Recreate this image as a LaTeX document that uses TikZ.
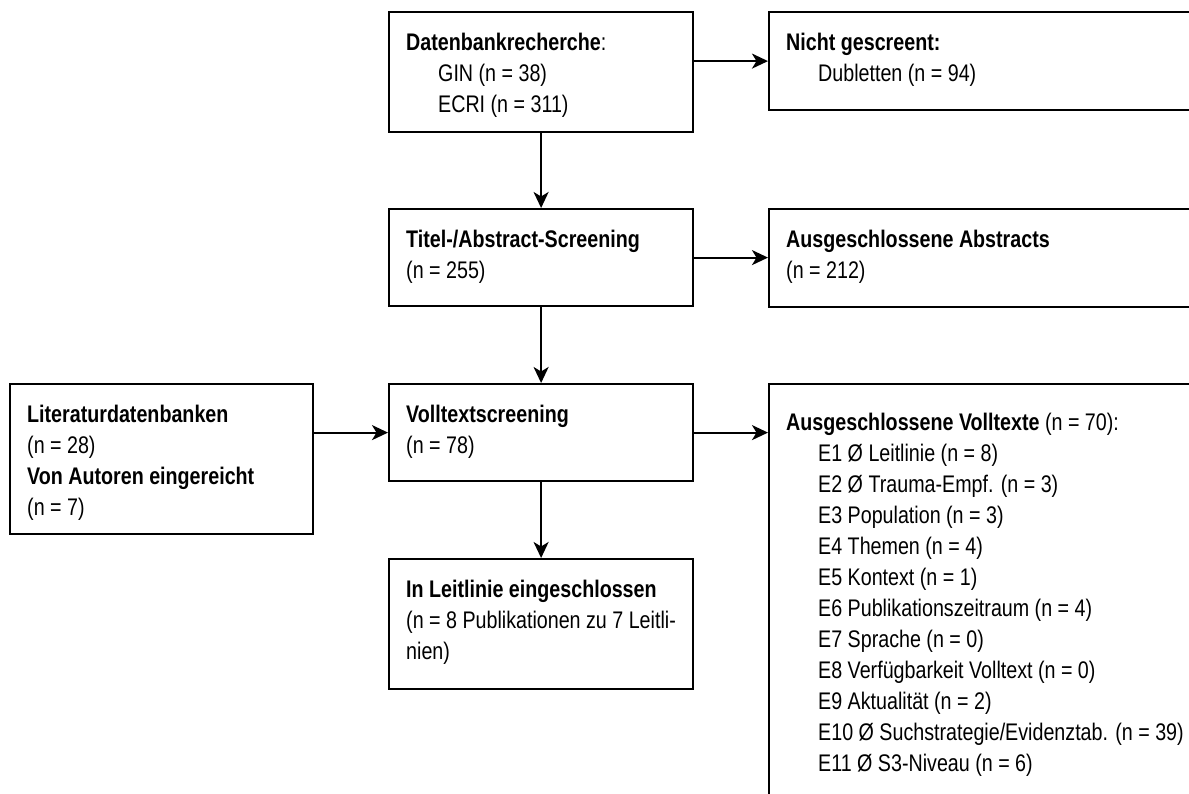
\documentclass[tikz,border=0pt]{standalone}
\usepackage{fontspec}
\setmainfont{Liberation Sans}[FakeStretch=0.82]
\usetikzlibrary{arrows.meta}
\newcommand\ind{\hspace*{32pt}}
\begin{document}
\begin{tikzpicture}[x=1pt,y=-1pt,
  frame/.style={draw=black, line width=2.2pt, rectangle, inner sep=0pt, anchor=north west},
  % first line carries a strut, so its baseline lies 21.7pt below the node top
  boxtext/.style={anchor=north west, inner sep=0pt, align=left,
    font=\fontsize{24pt}{31pt}\selectfont},
  flow/.style={line width=2.2pt, -{Stealth[length=16pt,width=15pt,inset=4.5pt]}}
]
\useasboundingbox (0,0) rectangle (1189,793);
\clip (0,0) rectangle (1189,793);

% boxes
\node[frame, minimum width=304pt, minimum height=120pt] (search) at (388,11) {};
\node[frame, minimum width=440pt, minimum height=98pt]  (dup)    at (768,11) {};
\node[frame, minimum width=304pt, minimum height=97pt]  (screen) at (388,208) {};
\node[frame, minimum width=440pt, minimum height=98pt]  (absex)  at (768,208) {};
\node[frame, minimum width=303pt, minimum height=150pt] (extra)  at (9,383) {};
\node[frame, minimum width=304pt, minimum height=97pt]  (full)   at (388,383) {};
\node[frame, minimum width=440pt, minimum height=430pt] (fullex) at (768,383) {};
\node[frame, minimum width=304pt, minimum height=130pt] (incl)   at (388,558) {};

% box contents
\node[boxtext] (searchtxt) at ([shift={(18,17.3)}]search.north west)
  {\strut\textbf{Datenbankrecherche}:\\ \ind GIN (n = 38)\\ \ind ECRI (n = 311)};
\node[boxtext] (duptxt) at ([shift={(18,17.3)}]dup.north west)
  {\strut\textbf{Nicht gescreent:}\\ \ind Dubletten (n = 94)};
\node[boxtext] (screentxt) at ([shift={(18,17.3)}]screen.north west)
  {\strut\textbf{Titel-/Abstract-Screening}\\ (n = 255)};
\node[boxtext] (absextxt) at ([shift={(18,17.3)}]absex.north west)
  {\strut\textbf{Ausgeschlossene Abstracts}\\ (n = 212)};
\node[boxtext] (extratxt) at ([shift={(18,17.3)}]extra.north west)
  {\strut\textbf{Literaturdatenbanken}\\ (n = 28)\\ \textbf{Von Autoren eingereicht}\\ (n = 7)};
\node[boxtext] (fulltxt) at ([shift={(18,17.3)}]full.north west)
  {\strut\textbf{Volltextscreening}\\ (n = 78)};
\node[boxtext] (fullextxt) at ([shift={(18,25.3)}]fullex.north west)
  {\strut\textbf{Ausgeschlossene Volltexte} (n = 70):\\
   \ind E1 Ø Leitlinie (n = 8)\\
   \ind E2 Ø Trauma-Empf. (n = 3)\\
   \ind E3 Population (n = 3)\\
   \ind E4 Themen (n = 4)\\
   \ind E5 Kontext (n = 1)\\
   \ind E6 Publikationszeitraum (n = 4)\\
   \ind E7 Sprache (n = 0)\\
   \ind E8 Verfügbarkeit Volltext (n = 0)\\
   \ind E9 Aktualität (n = 2)\\
   \ind E10 Ø Suchstrategie/Evidenztab. (n = 39)\\
   \ind E11 Ø S3-Niveau (n = 6)};
\node[boxtext] (incltxt) at ([shift={(18,17.3)}]incl.north west)
  {\strut\textbf{In Leitlinie eingeschlossen}\\ (n = 8 Publikationen zu 7 Leitli-\\ nien)};

% connectors
\draw[flow] (search.east |- dup.west) -- (dup.west);
\draw[flow] (search.south) -- (screen.north);
\draw[flow] (screen.east) -- (screen.east -| absex.west);
\draw[flow] (screen.south) -- (full.north);
\draw[flow] (extra.east |- full.west) -- (full.west);
\draw[flow] (full.east) -- (full.east -| fullex.west);
\draw[flow] (full.south) -- (incl.north);
\end{tikzpicture}
\end{document}
